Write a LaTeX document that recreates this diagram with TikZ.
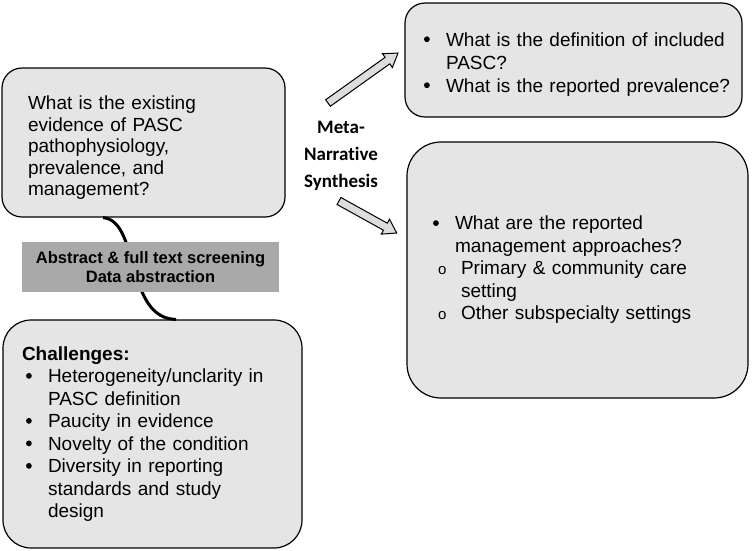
\documentclass[tikz,border=0pt]{standalone}
\usepackage{fontspec}
\setmainfont{Liberation Sans}
\newfontfamily\calib[Ligatures=NoCommon]{Carlito}
\usepackage{xcolor}
\usetikzlibrary{calc}

\definecolor{boxgray}{HTML}{E5E5E5}
\definecolor{bargray}{HTML}{A9A9A9}
\definecolor{arrgray}{HTML}{DDDDDD}

\newcommand{\bul}{\makebox[23pt][l]{\hspace{1pt}\tikz[baseline=-6.8pt]\fill (0pt,0pt) circle[radius=2.9pt];}}
\newcommand{\subbul}{\hspace*{6pt}\makebox[23pt][l]{\fontsize{15}{15}\selectfont o}}
% hollow block arrow: tail point, angle, length
\newcommand{\blockarrow}[3]{%
  \draw[blockarr, shift={#1}, rotate=#2]
    (0,-4) -- ({#3-13},-4) -- ({#3-13},-8.5) -- (#3,0) -- ({#3-13},8.5) -- ({#3-13},4) -- (0,4) -- cycle;}

\tikzset{
  qbox/.style={draw=black, line width=1.2pt, fill=boxgray, rounded corners=20pt,
    align=left, inner ysep=0pt, font={\fontsize{19}{22.5}\selectfont}},
  barbox/.style={fill=bargray, minimum width=257pt, minimum height=50pt, align=center,
    font={\fontsize{16.5}{19.5}\selectfont\bfseries}},
  blockarr/.style={draw=black, line width=1pt, fill=arrgray, line join=miter},
  link/.style={line width=3pt, black}
}

\begin{document}
\begin{tikzpicture}[x=1pt, y=-1pt]
  \useasboundingbox (0,0) rectangle (752,550);

  % question boxes
  \node[qbox, minimum width=283pt, minimum height=149pt, inner xsep=26pt, text width=231pt,
    font={\fontsize{19}{21.5}\selectfont}] (qA) at (143.5,142.5)
    {\rule{0pt}{24pt}What is the existing\\ evidence of PASC\\ pathophysiology,\\ prevalence, and\\ management?};
  \node[qbox, minimum width=337pt, minimum height=114pt, inner xsep=18pt, text width=301pt,
    font={\fontsize{19}{23}\selectfont}] (qB) at (573.5,60)
    {\rule{0pt}{22pt}\bul\mbox{What is the definition of included}\\ \hspace*{23pt}PASC?\\ \bul\mbox{What is the reported prevalence?}};
  \node[qbox, rounded corners=34pt, minimum width=341pt, minimum height=256pt, inner xsep=25pt,
    text width=291pt] (qD) at (577.5,270)
    {\bul What are the reported\\ \hspace*{23pt}management approaches?\\
     \subbul Primary \& community care\\ \hspace*{29pt}setting\\
     \subbul Other subspecialty settings};
  \node[qbox, rounded corners=28pt, minimum width=299pt, minimum height=228pt, inner xsep=19pt,
    text width=261pt] (ch) at (152.5,434)
    {\textbf{Challenges:}\\
     \hspace*{3pt}\bul Heterogeneity/unclarity in\\ \hspace*{26pt}PASC definition\\
     \hspace*{3pt}\bul Paucity in evidence\\
     \hspace*{3pt}\bul Novelty of the condition\\
     \hspace*{3pt}\bul Diversity in reporting\\ \hspace*{26pt}standards and study\\ \hspace*{26pt}design};

  % screening step sits on the link
  \draw[link] ([xshift=-40.5pt]qA.south) .. controls +(37,3) and +(-51,-1) .. ([xshift=23.5pt]ch.north);
  \node[barbox] (screen) at (150.5,267) {Abstract \& full text screening\\ Data abstraction};

  % synthesis
  \node[align=center, font={\fontsize{19}{27}\selectfont\calib\bfseries}] (meta) at (341,156)
    {Meta-\\ Narrative\\ Synthesis};
  \blockarrow{(328,103)}{35.5}{86}
  \blockarrow{(339,201)}{-29}{66}
\end{tikzpicture}
\end{document}
